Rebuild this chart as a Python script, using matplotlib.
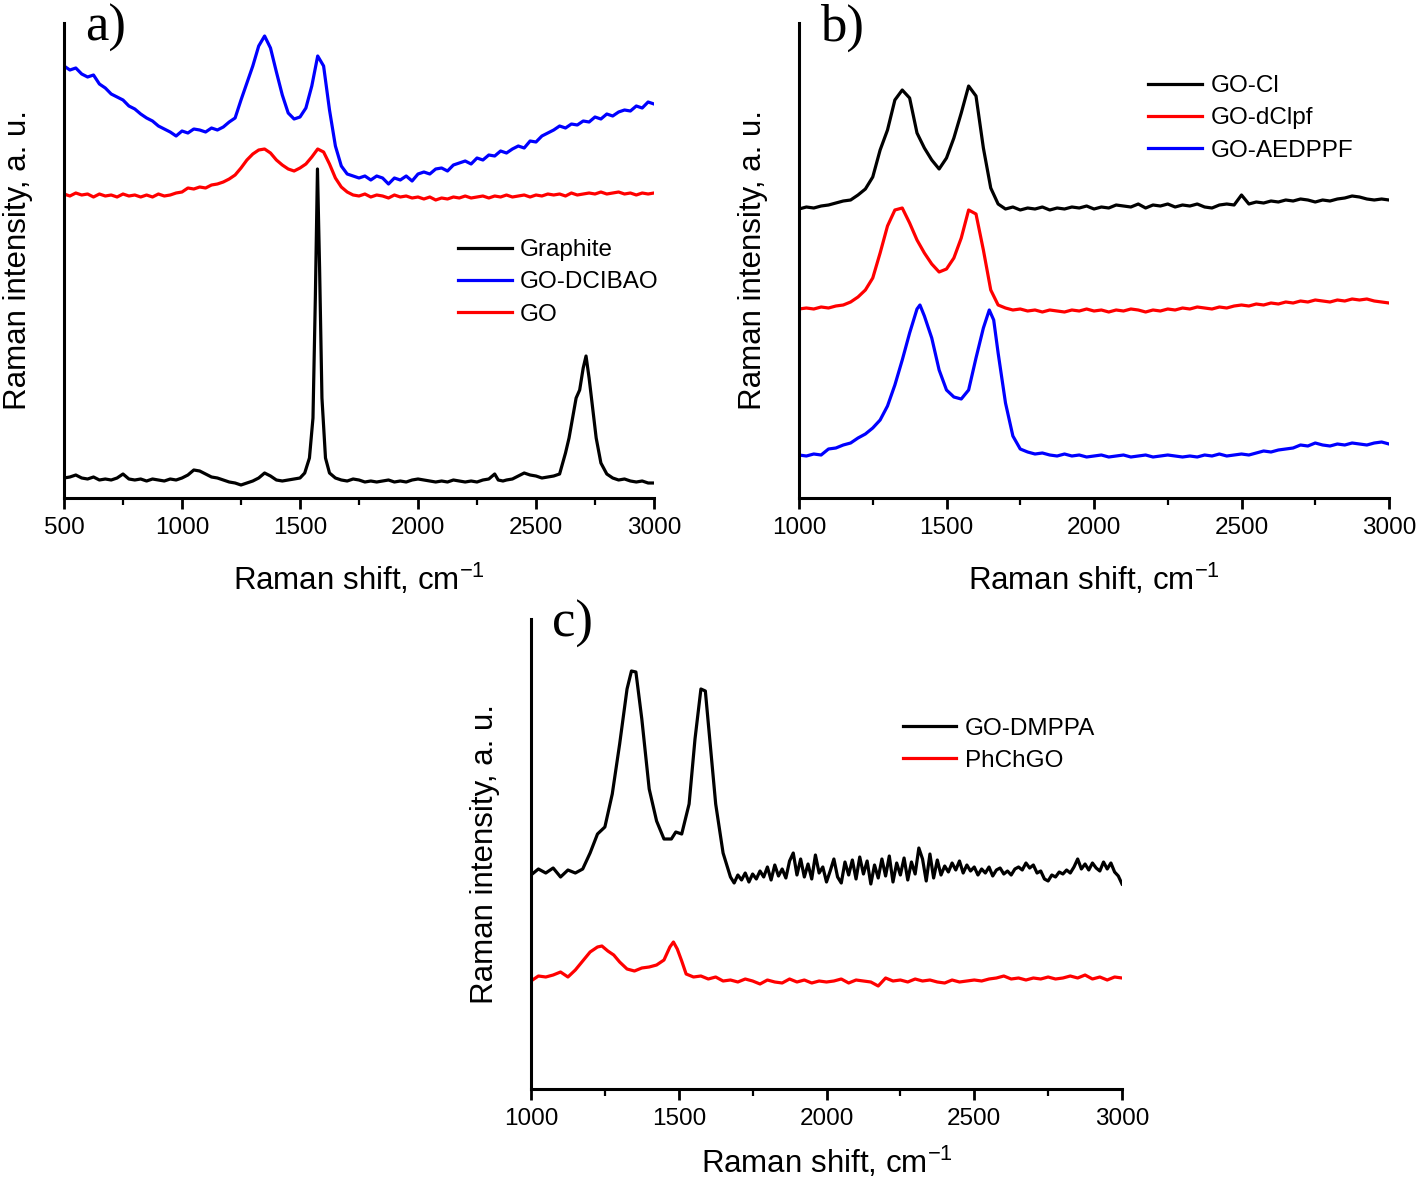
import numpy as np
import matplotlib
matplotlib.use('Agg')
import matplotlib.pyplot as plt
from matplotlib.ticker import MultipleLocator

plt.rcParams['font.family'] = ['Liberation Sans', 'DejaVu Sans']
plt.rcParams['mathtext.default'] = 'regular'

# 1. data (intensity in arbitrary units, offsets as in the figure)
# panel a
shift_a = np.arange(500, 3001, 25)
graphite_x = [500, 525, 550, 575, 600, 625, 650, 675, 700, 725, 750, 775, 800, 825, 850, 875, 900, 925, 950, 975,
              1000, 1025, 1050, 1075, 1100, 1125, 1150, 1175, 1200, 1225, 1250, 1275, 1300, 1325, 1350, 1375, 1400,
              1425, 1450, 1475, 1500, 1520, 1540, 1555, 1565, 1574, 1583, 1593, 1608, 1625, 1650, 1675, 1700, 1725,
              1750, 1775, 1800, 1825, 1850, 1875, 1900, 1925, 1950, 1975, 2000, 2025, 2050, 2075, 2100, 2125, 2150,
              2175, 2200, 2225, 2250, 2275, 2300, 2325, 2340, 2360, 2375, 2400, 2425, 2450, 2475, 2500, 2525, 2550,
              2575, 2600, 2625, 2640, 2655, 2670, 2685, 2700, 2712, 2725, 2740, 2755, 2775, 2800, 2825, 2850, 2875,
              2900, 2925, 2950, 2975, 3000]
graphite = [20, 21, 23, 20, 19, 21, 18, 19, 18, 20, 24, 19, 18, 19, 17, 19, 18, 17, 19, 18,
            20, 23, 28, 27, 24, 21, 20, 18, 16, 15, 13, 15, 17, 20, 25, 22, 18, 17, 18, 19, 20,
            25, 40, 80, 200, 329, 230, 100, 40, 25,
            20, 18, 17, 19, 18, 16, 17, 16, 17, 18, 16, 17, 16, 18, 19, 18, 17, 16, 17, 16,
            18, 17, 16, 17, 16, 18, 19, 24, 18, 17,
            18, 19, 22, 25, 23, 22, 20, 21, 22, 24, 45,
            60, 80, 100, 108, 130, 142, 120, 90, 60,
            35, 24, 20, 18, 19, 17, 16, 17, 15, 15]
go_dcibao = [432, 428, 430, 424, 421, 423, 414, 410, 404, 401,
             398, 392, 389, 384, 380, 377, 372, 369, 366, 362,
             367, 365, 369, 368, 366, 370, 368, 371, 376, 380,
             398, 415, 432, 452, 462, 450, 426, 403, 385, 379,
             381, 390, 412, 442, 432, 388, 352, 332, 324, 322,
             320, 322, 318, 322, 320, 314, 320, 318, 322, 317,
             324, 326, 324, 329, 330, 327, 333, 335, 337, 334,
             340, 338, 343, 342, 347, 345, 349, 352, 350, 357,
             356, 362, 365, 368, 372, 370, 374, 373, 377, 376,
             381, 379, 384, 382, 386, 388, 387, 392, 390, 396,
             394]
go_a = [304, 302, 305, 303, 304, 301, 304, 302, 303, 301,
        304, 302, 303, 301, 303, 301, 304, 302, 303, 305,
        306, 310, 309, 311, 310, 313, 314, 316, 319, 323,
        330, 338, 344, 348, 349, 345, 338, 333, 329, 327,
        330, 334, 341, 349, 346, 334, 320, 311, 306, 303,
        302, 304, 301, 303, 302, 300, 303, 301, 302, 300,
        301, 299, 301, 298, 300, 299, 301, 300, 302, 300,
        301, 302, 300, 302, 301, 303, 301, 302, 303, 301,
        303, 302, 304, 303, 304, 302, 305, 303, 304, 305,
        304, 306, 304, 305, 306, 304, 305, 303, 305, 304,
        305]

# panel b
shift_b = np.arange(1000, 3001, 25)
go_cl = [289, 291, 290, 292, 293, 295, 297, 298, 303, 309,
         321, 348, 368, 398, 408, 400, 365, 350, 338, 329,
         340, 360, 385, 412, 402, 350, 310, 294, 289, 291,
         288, 290, 289, 291, 288, 290, 289, 291, 290, 292,
         289, 291, 290, 293, 292, 291, 294, 290, 293, 292,
         294, 291, 293, 292, 294, 291, 290, 293, 294, 293,
         303, 294, 296, 295, 297, 296, 298, 297, 299, 298,
         296, 298, 297, 299, 300, 302, 301, 299, 298, 299,
         298]
go_dclpf = [189, 190, 189, 191, 190, 192, 193, 196, 201, 208,
            220, 245, 272, 288, 290, 275, 258, 245, 234, 226,
            229, 240, 260, 288, 284, 248, 208, 193, 190, 188,
            189, 187, 188, 186, 188, 187, 186, 188, 187, 189,
            187, 188, 186, 188, 187, 189, 188, 186, 188, 187,
            189, 188, 190, 189, 191, 190, 189, 191, 190, 192,
            193, 192, 194, 193, 195, 194, 196, 195, 197, 196,
            198, 197, 196, 198, 197, 199, 198, 199, 197, 196,
            195]
aedppf_x = [1000, 1025, 1050, 1075, 1100, 1125, 1150, 1175, 1200, 1225, 1250, 1275, 1300, 1325, 1350, 1375, 1400,
            1410, 1425, 1450, 1475, 1500, 1525, 1550, 1575, 1600, 1625, 1645, 1660,
            1675, 1700, 1725, 1750, 1775, 1800, 1825, 1850, 1875, 1900, 1925, 1950, 1975, 2000, 2025, 2050, 2075,
            2100, 2125, 2150, 2175, 2200, 2225, 2250, 2275, 2300, 2325, 2350, 2375, 2400, 2425, 2450, 2475, 2500,
            2525, 2550, 2575, 2600, 2625, 2650, 2675, 2700, 2725, 2750, 2775, 2800, 2825, 2850, 2875, 2900, 2925,
            2950, 2975, 3000]
go_aedppf = [43, 42, 44, 43, 49, 50, 53, 55, 60, 64, 70, 78, 92, 113, 138, 165, 189,
             193, 182, 160, 128, 108, 101, 99, 108, 140, 170, 188, 178,
             145, 95, 62, 49, 46, 44, 45, 43, 42, 44,
             42, 43, 41, 42, 43, 41, 42, 43, 41, 42,
             43, 41, 42, 43, 42, 41, 42, 41, 43, 42,
             44, 42, 43, 44, 43, 45, 47, 46, 48, 49,
             50, 53, 52, 55, 53, 52, 54, 53, 55, 54,
             53, 55, 56, 54]

# panel c
dmppa_peak_x = [1000, 1025, 1050, 1075, 1100, 1125, 1150, 1175, 1200, 1225, 1250, 1275, 1300,
                1325, 1340, 1355, 1375, 1400, 1425, 1450, 1475, 1490, 1510, 1535, 1555, 1575, 1590, 1605,
                1625, 1650]
dmppa_peak = [214, 220, 216, 221, 212, 219, 216, 220, 236, 255, 262, 295, 345,
              400, 418, 417, 370, 300, 268, 250, 250, 257, 255, 285, 350, 400, 398, 350, 285, 236]
dmppa_tail_x = np.arange(1675, 3000.1, 12.5)
dmppa_tail = [212, 206, 214, 209, 216, 207, 215, 210, 218, 212,
              222, 209, 224, 213, 220, 211, 228, 236,
              214, 230, 212, 225, 210, 234, 216, 222,
              207, 218, 230, 212, 206, 227, 214, 229,
              210, 232, 215, 228, 205, 224, 211, 230,
              213, 233, 207, 226, 214, 231, 209, 227,
              215, 241, 230, 208, 235, 211, 229, 214,
              223, 217, 226, 219, 228, 216, 224, 218,
              222, 214, 220, 216, 222, 213, 219, 221,
              215, 218, 214, 220, 222, 219, 226, 221,
              224, 216, 218, 210, 208, 214, 212, 217,
              215, 219, 216, 222, 230, 220, 225, 219,
              226, 221, 218, 227, 220, 226, 217, 213,
              205]
phchgo_x = [1000, 1025, 1050, 1075, 1100, 1125, 1150, 1175, 1200, 1225,
            1240, 1260, 1280, 1300, 1325, 1350, 1375, 1400, 1425, 1450, 1470, 1482, 1495, 1510, 1525,
            1550, 1575, 1600, 1625, 1650, 1675, 1700, 1725, 1750, 1775, 1800, 1825, 1850, 1875, 1900, 1925,
            1950, 1975, 2000, 2025, 2050, 2075, 2100, 2125, 2150, 2175, 2200, 2225, 2250, 2275, 2300, 2325,
            2350, 2375, 2400, 2425, 2450, 2475, 2500, 2525, 2550, 2575, 2600, 2625, 2650, 2675, 2700, 2725,
            2750, 2775, 2800, 2825, 2850, 2875, 2900, 2925, 2950, 2975, 3000]
phchgo = [108, 113, 112, 114, 117, 112, 119, 128, 137, 142,
          143, 138, 134, 127, 120, 118, 121, 122, 124, 129, 142, 147, 140, 128, 115,
          112, 113, 110, 112, 108, 109, 107, 110, 108, 105,
          109, 107, 106, 110, 107, 109, 106, 108, 107, 108,
          110, 106, 109, 108, 107, 103, 111, 108, 109, 107,
          110, 108, 109, 107, 106, 109, 107, 108, 109, 108,
          110, 111, 113, 110, 111, 109, 111, 110, 112, 110,
          111, 113, 111, 114, 110, 112, 109, 112, 111]

# 2. figure layout (pixel positions of the original)
W, H = 1418, 1182
fig = plt.figure(figsize=(W / 100, H / 100), dpi=100)
ax_a = fig.add_axes([64 / W, 1 - 498 / H, 590 / W, 475 / H])
ax_b = fig.add_axes([799 / W, 1 - 498 / H, 590 / W, 475 / H])
ax_c = fig.add_axes([531 / W, 1 - 1089 / H, 591 / W, 470 / H])

LW = 2.3


def style_axis(ax, xmin, letter, xpad=16):
    ax.set_xlim(xmin, 3000)
    ax.set_ylim(0, 475)
    for s in ['top', 'right']:
        ax.spines[s].set_visible(False)
    for s in ['left', 'bottom']:
        ax.spines[s].set_linewidth(2.2)
    ax.set_yticks([])
    ax.xaxis.set_major_locator(MultipleLocator(500))
    ax.xaxis.set_minor_locator(MultipleLocator(250))
    ax.tick_params(axis='x', which='major', direction='out', length=8, width=2, labelsize=17.5, pad=6)
    ax.tick_params(axis='x', which='minor', direction='out', length=5, width=1.6)
    ax.set_xlabel('Raman shift, cm$^{-1}$', fontsize=22.5, labelpad=xpad)
    ax.set_ylabel('Raman intensity, a. u.', fontsize=22.5, labelpad=22)
    ax.text(0.036, 0.99, letter, transform=ax.transAxes, fontsize=38,
            family='Liberation Serif', va='center', ha='left')


def add_legend(ax, x, y):
    ax.legend(frameon=False, loc='upper left', bbox_to_anchor=(x, y), fontsize=17.5,
              handlelength=2.2, handletextpad=0.35, labelspacing=0.42,
              borderpad=0, borderaxespad=0)


# 3. panel a
ax_a.plot(graphite_x, graphite, color='black', lw=LW, label='Graphite')
ax_a.plot(shift_a, go_dcibao, color='#0000ff', lw=LW, label='GO-DCIBAO')
ax_a.plot(shift_a, go_a, color='#ff0000', lw=LW, label='GO')
style_axis(ax_a, 500, 'a)')
add_legend(ax_a, 0.668, 0.545)

# 4. panel b
ax_b.plot(shift_b, go_cl, color='black', lw=LW, label='GO-Cl')
ax_b.plot(shift_b, go_dclpf, color='#ff0000', lw=LW, label='GO-dClpf')
ax_b.plot(aedppf_x, go_aedppf, color='#0000ff', lw=LW, label='GO-AEDPPF')
style_axis(ax_b, 1000, 'b)')
add_legend(ax_b, 0.592, 0.89)

# 5. panel c
ax_c.plot(np.concatenate([dmppa_peak_x, dmppa_tail_x]), dmppa_peak + dmppa_tail,
          color='black', lw=LW, label='GO-DMPPA')
ax_c.plot(phchgo_x, phchgo, color='#ff0000', lw=LW, label='PhChGO')
style_axis(ax_c, 1000, 'c)', xpad=10)
ax_c.set_ylim(0, 470)
add_legend(ax_c, 0.629, 0.79)

fig.savefig('out.png', dpi=100)
